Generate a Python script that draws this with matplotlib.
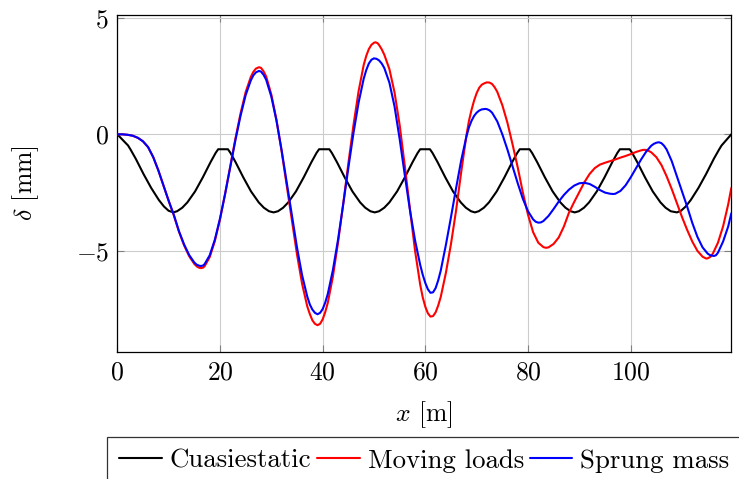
import matplotlib
matplotlib.use("Agg")
import matplotlib.pyplot as plt

plt.rcParams['font.family'] = 'serif'
plt.rcParams['font.serif'] = ['cmr10']
plt.rcParams['mathtext.fontset'] = 'cm'
plt.rcParams['axes.formatter.use_mathtext'] = True
plt.rcParams['axes.unicode_minus'] = True

# ---- data, (x [m], delta [mm]) ----
black_pts = [
    (0, 0), (2.1, -0.48), (2.6, -0.66), (3.6, -1.05), (5.1, -1.7), (6.6, -2.3), (8.1, -2.82), (9.1, -3.1),
    (10.0, -3.28), (10.9, -3.35), (11.65, -3.3), (12.65, -3.15), (13.65, -2.92), (15.15, -2.45), (16.65, -1.85),
    (18.15, -1.2), (19.15, -0.8), (19.65, -0.64),
    (21.55, -0.64), (22.05, -0.8), (23.05, -1.2), (24.55, -1.85), (26.05, -2.45), (27.55, -2.92), (28.55, -3.15),
    (29.55, -3.3), (30.45, -3.35), (31.3, -3.3), (32.3, -3.15), (33.3, -2.92), (34.8, -2.45), (36.3, -1.85),
    (37.8, -1.2), (38.8, -0.8), (39.3, -0.64),
    (41.3, -0.64), (41.8, -0.8), (42.8, -1.2), (44.3, -1.85), (45.8, -2.45), (47.3, -2.92), (48.3, -3.15),
    (49.3, -3.3), (50.15, -3.35), (51.0, -3.3), (52.0, -3.15), (53.0, -2.92), (54.5, -2.45), (56.0, -1.85),
    (57.5, -1.2), (58.5, -0.8), (59.0, -0.64),
    (60.9, -0.64), (61.4, -0.8), (62.4, -1.2), (63.9, -1.85), (65.4, -2.45), (66.9, -2.92), (67.9, -3.15),
    (68.9, -3.3), (69.65, -3.35), (70.4, -3.3), (71.4, -3.15), (72.4, -2.92), (73.9, -2.45), (75.4, -1.85),
    (76.9, -1.2), (77.9, -0.8), (78.4, -0.64),
    (80.3, -0.64), (80.8, -0.8), (81.8, -1.2), (83.3, -1.85), (84.8, -2.45), (86.3, -2.92), (87.3, -3.15),
    (88.3, -3.3), (89.1, -3.35), (89.9, -3.3), (90.9, -3.15), (91.9, -2.92), (93.4, -2.45), (94.9, -1.85),
    (96.4, -1.2), (97.4, -0.8), (97.9, -0.64),
    (99.8, -0.64), (100.3, -0.8), (101.3, -1.2), (102.8, -1.85), (104.3, -2.45), (105.8, -2.92), (106.8, -3.15),
    (107.8, -3.3), (109.0, -3.35), (109.8, -3.28), (110.7, -3.1), (111.7, -2.82), (113.2, -2.3), (114.7, -1.7),
    (116.2, -1.05), (117.2, -0.66), (117.7, -0.48), (119.6, 0),
]

red_pts = [
    (0, 0), (1, 0.0), (2, -0.02), (3, -0.06), (4, -0.15), (5, -0.3), (6, -0.55), (7, -0.98), (8, -1.55),
    (9, -2.2), (10, -2.85), (11, -3.47), (12, -4.17), (13, -4.76), (14, -5.23), (15, -5.56), (15.5, -5.67),
    (16, -5.73), (16.3, -5.74), (16.7, -5.72), (17, -5.66), (18, -5.27), (19, -4.58), (20, -3.65), (21, -2.55),
    (22, -1.38), (23, -0.19), (24, 0.89), (25, 1.81), (26, 2.46), (26.5, 2.68), (27, 2.82), (27.6, 2.88),
    (28, 2.85), (28.5, 2.7), (29, 2.48), (30, 1.71), (31, 0.63), (32, -0.72), (33, -2.20), (34, -3.71),
    (35, -5.15), (36, -6.42), (37, -7.38), (37.5, -7.71), (38, -7.98), (38.5, -8.13), (39, -8.19),
    (39.5, -8.13), (40, -7.94), (40.5, -7.63), (41, -7.23), (42, -6.10), (43, -4.64), (44, -2.99),
    (45, -1.26), (46, 0.39), (47, 1.85), (48, 2.98), (48.5, 3.37), (49, 3.66), (49.5, 3.84), (50, 3.93),
    (50.3, 3.95), (50.7, 3.91), (51, 3.83), (51.5, 3.65), (52, 3.42), (53, 2.8), (54, 1.8), (55, 0.4),
    (56, -1.35), (57, -3.2), (58, -5.0), (59, -6.45), (59.5, -7.0), (60, -7.4), (60.5, -7.68), (61, -7.82),
    (61.5, -7.8), (62, -7.64), (62.5, -7.35), (63, -6.98), (64, -5.95), (65, -4.7), (66, -3.25), (67, -1.6),
    (68, -0.05), (68.5, 0.58), (69, 1.05), (69.5, 1.45), (70, 1.77), (70.5, 2.0), (71, 2.13), (71.5, 2.19),
    (72, 2.23), (72.5, 2.22), (73, 2.16), (73.5, 2.02), (74, 1.83), (75, 1.25), (76, 0.49), (77, -0.44),
    (78, -1.42), (79, -2.5), (80, -3.45), (81, -4.2), (82, -4.65), (83, -4.84), (83.5, -4.87), (84, -4.85),
    (85, -4.7), (86, -4.42), (87, -3.95), (88, -3.35), (89, -2.9), (90, -2.48), (91, -2.05), (92, -1.7),
    (93, -1.45), (94, -1.3), (95, -1.22), (96, -1.15), (97, -1.08), (98, -1.0), (99, -0.93), (100, -0.85),
    (101, -0.76), (102, -0.69), (102.5, -0.665), (103, -0.67), (103.5, -0.71), (104, -0.77), (105, -0.98),
    (106, -1.32), (107, -1.8), (108, -2.35), (109, -2.95), (110, -3.55), (111, -4.1), (112, -4.6),
    (113, -5.0), (114, -5.25), (114.7, -5.33), (115, -5.32), (115.5, -5.26), (116, -5.12), (117, -4.65),
    (118, -3.95), (119, -3.0), (119.6, -2.3),
]

blue_pts = [
    (0, 0), (1, 0.0), (2, -0.02), (3, -0.06), (4, -0.15), (5, -0.3), (6, -0.55), (7, -0.98), (8, -1.55),
    (9, -2.2), (10, -2.85), (11, -3.45), (12, -4.15), (13, -4.72), (14, -5.18), (15, -5.5), (15.5, -5.6),
    (16, -5.64), (16.3, -5.65), (16.7, -5.63), (17, -5.57), (18, -5.19), (19, -4.52), (20, -3.62), (21, -2.56),
    (22, -1.41), (23, -0.26), (24, 0.79), (25, 1.68), (26, 2.31), (26.5, 2.53), (27, 2.66), (27.6, 2.72),
    (28, 2.69), (28.5, 2.55), (29, 2.34), (30, 1.62), (31, 0.59), (32, -0.67), (33, -2.07), (34, -3.50),
    (35, -4.85), (36, -6.05), (37, -6.96), (37.5, -7.3), (38, -7.52), (38.5, -7.66), (39, -7.72),
    (39.5, -7.66), (40, -7.50), (40.5, -7.22), (41, -6.85), (42, -5.82), (43, -4.51), (44, -3.01),
    (45, -1.45), (46, 0.05), (47, 1.36), (48, 2.39), (48.5, 2.76), (49, 3.04), (49.5, 3.2), (50, 3.26),
    (50.5, 3.24), (51, 3.17), (51.5, 3.04), (52, 2.85), (53, 2.22), (54, 1.2), (55, -0.2), (56, -1.75),
    (57, -3.25), (58, -4.55), (59, -5.6), (59.5, -6.03), (60, -6.38), (60.5, -6.65), (61, -6.8), (61.5, -6.78),
    (62, -6.6), (62.5, -6.27), (63, -5.85), (64, -4.75), (65, -3.55), (66, -2.3), (67, -1.1), (68, -0.1),
    (68.5, 0.3), (69, 0.58), (69.5, 0.79), (70, 0.93), (70.5, 1.02), (71, 1.07), (71.7, 1.09), (72, 1.08),
    (72.5, 1.03), (73, 0.93), (74, 0.56), (75, 0.0), (76, -0.66), (77, -1.38), (78, -2.1), (79, -2.77),
    (80, -3.3), (81, -3.65), (81.5, -3.75), (82, -3.79), (82.5, -3.78), (83, -3.72), (84, -3.5), (85, -3.2),
    (86, -2.88), (87, -2.6), (88, -2.37), (89, -2.2), (90, -2.1), (91, -2.08), (92, -2.13), (93, -2.25),
    (94, -2.39), (95, -2.5), (96, -2.55), (96.6, -2.56), (97, -2.55), (98, -2.43), (99, -2.19), (100, -1.85),
    (101, -1.47), (102, -1.09), (103, -0.75), (104, -0.49), (104.5, -0.41), (105, -0.36), (105.5, -0.34),
    (106, -0.38), (106.5, -0.49), (107, -0.65), (108, -1.15), (109, -1.8), (110, -2.45), (111, -3.1),
    (112, -3.8), (113, -4.4), (114, -4.85), (115, -5.12), (115.5, -5.19), (116.2, -5.22), (116.6, -5.19),
    (117, -5.08), (118, -4.6), (119, -3.95), (119.6, -3.39),
]

series_labels = ["Cuasiestatic", "Moving loads", "Sprung mass"]
series_colors = ["black", "#ff0000", "#0000ff"]
x_ticks = [0, 20, 40, 60, 80, 100]
y_ticks = [-5, 0, 5]

# ---- figure ----
W, H = 739, 479
fig = plt.figure(figsize=(W / 100, H / 100), dpi=100)
ax_l, ax_r, ax_t, ax_b = 117.3, 731.3, 15, 352
ax = fig.add_axes([ax_l / W, 1 - ax_b / H, (ax_r - ax_l) / W, (ax_b - ax_t) / H])

for z, (pts, lab, col) in enumerate(zip([black_pts, red_pts, blue_pts], series_labels, series_colors)):
    xs = [p[0] for p in pts]
    ys = [p[1] for p in pts]
    ax.plot(xs, ys, color=col, lw=1.5, label=lab, zorder=3 + z,
            solid_joinstyle='round', solid_capstyle='round')

ax.set_xlim(0, 119.6)
ax.set_ylim(-9.34, 5.12)
ax.set_xticks(x_ticks)
ax.set_yticks(y_ticks)
ax.grid(True, color='#cccccc', lw=0.8)
ax.set_axisbelow(True)
ax.tick_params(direction='in', length=5, width=0.8, color='#808080', top=True, right=True,
               labelsize=18.5, pad=6)
for s in ax.spines.values():
    s.set_linewidth(0.9)
    s.set_color('black')

ax.set_xlabel(r'$x$ [m]', fontsize=18.5)
ax.set_ylabel(r'$\delta$ [mm]', fontsize=18.5)
ax.xaxis.set_label_coords(0.5, -0.14)
ax.yaxis.set_label_coords(-0.125, 0.5)

leg = fig.legend(loc='upper left', bbox_to_anchor=(107 / W, 1 - 437 / H), ncol=3,
                 fontsize=19.3, frameon=True, fancybox=False, edgecolor='black',
                 handlelength=1.6, handletextpad=0.3, columnspacing=0.2,
                 borderpad=0.45, borderaxespad=0)
leg.get_frame().set_linewidth(0.9)

fig.savefig('out.png', dpi=100)
